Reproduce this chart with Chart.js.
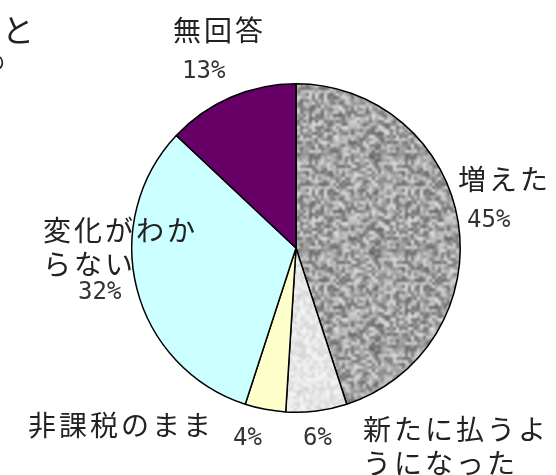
<!DOCTYPE html>
<html>
<head>
<meta charset="utf-8">
<script src="https://cdn.jsdelivr.net/npm/chart.js@4"></script>
<style>
  html, body { margin: 0; padding: 0; background: #fff; }
  #wrap { width: 556px; height: 475px; position: relative; }
</style>
</head>
<body>
<div id="wrap"><canvas id="pie" width="556" height="475"></canvas></div>
<script>
// data, clockwise from 12 o'clock
const categories = ['増えた', '新たに払うようになった', '非課税のまま', '変化がわからない', '無回答'];
const values = [45, 6, 4, 32, 13];
const pctLabels = ['45%', '6%', '4%', '32%', '13%'];

// small deterministic noise for the speckled fills, softened a bit
function makeTexture(base, spread, seed) {
    const N = 96;
    const raw = document.createElement('canvas');
    raw.width = N; raw.height = N;
    const g = raw.getContext('2d');
    let s = seed;
    const rnd = () => { s = (s * 1103515245 + 12345) & 0x7fffffff; return s / 0x7fffffff; };
    for (let y = 0; y < N; y += 3) {
        for (let x = 0; x < N; x += 3) {
            const v = Math.round(base + (rnd() - 0.55) * spread);
            g.fillStyle = `rgb(${v},${v},${v})`;
            g.fillRect(x, y, 3, 3);
        }
    }
    // tile 3x3 first, then blur once, so the seams wrap cleanly
    const big = document.createElement('canvas');
    big.width = N * 3; big.height = N * 3;
    const gb = big.getContext('2d');
    for (let i = 0; i < 3; i++)
        for (let j = 0; j < 3; j++) gb.drawImage(raw, i * N, j * N);
    const c = document.createElement('canvas');
    c.width = N; c.height = N;
    const g2 = c.getContext('2d');
    g2.filter = 'blur(0.8px)';
    g2.drawImage(big, -N, -N);
    return g2.createPattern(c, 'repeat');
}

const ctx = document.getElementById('pie').getContext('2d');
const fills = [
    makeTexture(170, 130, 7),
    makeTexture(232, 40, 11),
    '#ffffcc',
    '#ccffff',
    '#660066'
];

// where each label goes (split lines + text anchor), kept out of the data
const labelSpots = [
    { lines: ['増えた'], x: 458, y: 179, px: 467, py: 221 },
    { lines: ['新たに払うよ', 'うになった'], x: 363, y: 429, px: 303, py: 439 },
    { lines: ['非課税のまま'], x: 28, y: 425, px: 233, py: 439 },
    { lines: ['変化がわか', 'らない'], x: 43, y: 230, px: 78, py: 293 },
    { lines: ['無回答'], x: 173, y: 30, px: 182, py: 72 }
];

const labelPlugin = {
    id: 'outLabels',
    afterDraw(chart) {
        const c = chart.ctx;
        c.save();
        c.textBaseline = 'middle';
        c.textAlign = 'left';
        c.fillStyle = '#222';
        // cropped title fragments at the top-left
        c.font = '32px "Noto Sans CJK JP"';
        c.fillText('と', 2, 30);
        c.font = '20px "Noto Sans CJK JP"';
        c.fillText('の', -15, 62);

        labelSpots.forEach((spot, i) => {
            c.font = '28px "Noto Sans CJK JP"';
            c.letterSpacing = '3px';
            c.fillStyle = '#222';
            spot.lines.forEach((ln, k) => {
                c.fillText(ln, spot.x, spot.y + k * 34);
            });
            c.font = '24px "DejaVu Sans Mono"';
            c.letterSpacing = '0px';
            c.fillStyle = '#333';
            c.fillText(pctLabels[i], spot.px, spot.py);
        });
        c.restore();
    }
};

new Chart(ctx, {
    type: 'pie',
    data: {
        labels: categories,
        datasets: [{
            data: values,
            backgroundColor: fills,
            borderColor: '#000',
            borderWidth: 1.5
        }]
    },
    options: {
        responsive: false,
        animation: false,
        layout: { padding: { left: 131, right: 95, top: 83, bottom: 62 } },
        plugins: {
            legend: { display: false },
            tooltip: { enabled: false }
        }
    },
    plugins: [labelPlugin]
});
</script>
</body>
</html>
